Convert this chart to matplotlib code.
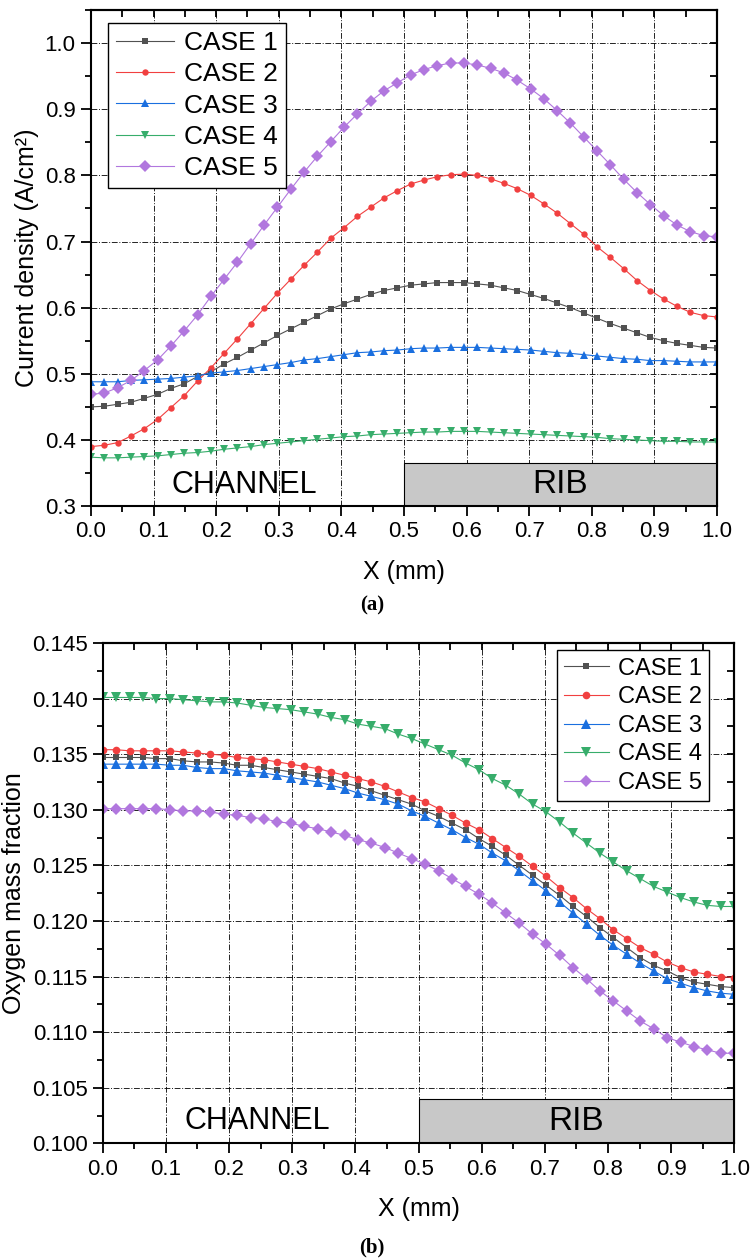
import numpy as np
import matplotlib.pyplot as plt
from matplotlib.patches import Rectangle
from matplotlib.ticker import MultipleLocator

plt.rcParams['font.family'] = ['Liberation Sans', 'DejaVu Sans']

# 48 sample points across the half cell (0 = channel centre, 1 = rib centre)
x = np.linspace(0, 1, 48)

labels = ['CASE 1', 'CASE 2', 'CASE 3', 'CASE 4', 'CASE 5']
colors = ['#515151', '#F14040', '#1A6FDF', '#37AD6B', '#B177DE']
markers = ['s', 'o', '^', 'v', 'D']

# current density, A/cm^2
cd_case1 = [0.450, 0.451, 0.454, 0.457, 0.463, 0.469, 0.478, 0.485, 0.496, 0.503,
            0.515, 0.525, 0.536, 0.547, 0.558, 0.568, 0.578, 0.588, 0.598, 0.606,
            0.613, 0.620, 0.626, 0.630, 0.634, 0.636, 0.638, 0.638, 0.638, 0.636,
            0.634, 0.630, 0.626, 0.620, 0.614, 0.607, 0.600, 0.592, 0.584, 0.576,
            0.569, 0.562, 0.555, 0.550, 0.546, 0.543, 0.540, 0.539]
cd_case2 = [0.390, 0.392, 0.396, 0.406, 0.417, 0.431, 0.449, 0.467, 0.489, 0.509,
            0.531, 0.553, 0.576, 0.599, 0.622, 0.643, 0.664, 0.684, 0.705, 0.721,
            0.738, 0.752, 0.766, 0.777, 0.787, 0.793, 0.798, 0.801, 0.802, 0.800,
            0.795, 0.788, 0.780, 0.770, 0.757, 0.743, 0.727, 0.711, 0.692, 0.676,
            0.659, 0.641, 0.626, 0.613, 0.602, 0.593, 0.588, 0.586]
cd_case3 = [0.488, 0.488, 0.488, 0.490, 0.491, 0.492, 0.493, 0.495, 0.497, 0.501,
            0.503, 0.505, 0.508, 0.511, 0.514, 0.517, 0.521, 0.523, 0.526, 0.529,
            0.532, 0.533, 0.535, 0.536, 0.538, 0.539, 0.539, 0.540, 0.540, 0.540,
            0.539, 0.538, 0.537, 0.536, 0.534, 0.532, 0.531, 0.529, 0.527, 0.525,
            0.523, 0.522, 0.520, 0.520, 0.519, 0.518, 0.518, 0.518]
cd_case4 = [0.374, 0.373, 0.373, 0.374, 0.375, 0.376, 0.378, 0.380, 0.381, 0.383,
            0.386, 0.388, 0.390, 0.393, 0.395, 0.397, 0.399, 0.401, 0.403, 0.405,
            0.406, 0.408, 0.409, 0.410, 0.411, 0.412, 0.412, 0.413, 0.413, 0.413,
            0.412, 0.411, 0.410, 0.409, 0.408, 0.407, 0.406, 0.405, 0.404, 0.402,
            0.401, 0.400, 0.399, 0.398, 0.398, 0.397, 0.397, 0.397]
cd_case5 = [0.469, 0.471, 0.479, 0.490, 0.505, 0.521, 0.542, 0.565, 0.589, 0.617,
            0.643, 0.669, 0.697, 0.725, 0.752, 0.779, 0.805, 0.829, 0.851, 0.873,
            0.893, 0.912, 0.928, 0.940, 0.952, 0.960, 0.966, 0.970, 0.970, 0.967,
            0.962, 0.955, 0.944, 0.931, 0.916, 0.898, 0.879, 0.858, 0.837, 0.816,
            0.794, 0.774, 0.756, 0.739, 0.725, 0.715, 0.709, 0.707]

# oxygen mass fraction
o2_case1 = [0.1347, 0.1347, 0.1347, 0.1347, 0.1346, 0.1346, 0.1344, 0.1343, 0.1343, 0.1342,
            0.1340, 0.1340, 0.1338, 0.1336, 0.1334, 0.1332, 0.1330, 0.1328, 0.1324, 0.1321,
            0.1317, 0.1313, 0.1309, 0.1305, 0.1299, 0.1294, 0.1288, 0.1282, 0.1274, 0.1267,
            0.1259, 0.1250, 0.1241, 0.1232, 0.1223, 0.1213, 0.1204, 0.1194, 0.1185, 0.1176,
            0.1167, 0.1160, 0.1155, 0.1149, 0.1145, 0.1143, 0.1141, 0.1140]
o2_case2 = [0.1354, 0.1354, 0.1353, 0.1353, 0.1353, 0.1353, 0.1352, 0.1351, 0.1350, 0.1349,
            0.1347, 0.1346, 0.1345, 0.1343, 0.1341, 0.1339, 0.1337, 0.1334, 0.1331, 0.1328,
            0.1325, 0.1321, 0.1316, 0.1311, 0.1307, 0.1301, 0.1295, 0.1288, 0.1282, 0.1274,
            0.1266, 0.1258, 0.1249, 0.1240, 0.1230, 0.1221, 0.1211, 0.1202, 0.1192, 0.1184,
            0.1176, 0.1170, 0.1163, 0.1158, 0.1154, 0.1152, 0.1150, 0.1149]
o2_case3 = [0.1341, 0.1341, 0.1341, 0.1341, 0.1341, 0.1340, 0.1340, 0.1338, 0.1337, 0.1337,
            0.1335, 0.1334, 0.1333, 0.1331, 0.1329, 0.1327, 0.1325, 0.1322, 0.1319, 0.1315,
            0.1312, 0.1309, 0.1305, 0.1299, 0.1294, 0.1288, 0.1282, 0.1275, 0.1269, 0.1261,
            0.1254, 0.1245, 0.1236, 0.1227, 0.1217, 0.1207, 0.1197, 0.1187, 0.1178, 0.1170,
            0.1162, 0.1155, 0.1148, 0.1144, 0.1140, 0.1137, 0.1135, 0.1134]
o2_case4 = [0.1401, 0.1401, 0.1401, 0.1401, 0.1400, 0.1400, 0.1399, 0.1398, 0.1397, 0.1397,
            0.1396, 0.1394, 0.1392, 0.1391, 0.1390, 0.1388, 0.1386, 0.1383, 0.1381, 0.1377,
            0.1375, 0.1373, 0.1368, 0.1364, 0.1359, 0.1354, 0.1349, 0.1342, 0.1336, 0.1328,
            0.1322, 0.1314, 0.1305, 0.1298, 0.1289, 0.1279, 0.1270, 0.1261, 0.1253, 0.1245,
            0.1238, 0.1231, 0.1226, 0.1221, 0.1217, 0.1214, 0.1213, 0.1213]
o2_case5 = [0.1301, 0.1301, 0.1301, 0.1301, 0.1301, 0.1300, 0.1299, 0.1299, 0.1298, 0.1296,
            0.1295, 0.1293, 0.1292, 0.1289, 0.1288, 0.1285, 0.1283, 0.1280, 0.1277, 0.1273,
            0.1270, 0.1266, 0.1261, 0.1256, 0.1251, 0.1245, 0.1238, 0.1231, 0.1224, 0.1216,
            0.1207, 0.1198, 0.1188, 0.1179, 0.1169, 0.1158, 0.1148, 0.1137, 0.1128, 0.1119,
            0.1110, 0.1103, 0.1095, 0.1091, 0.1087, 0.1084, 0.1081, 0.1081]

cd_all = [cd_case1, cd_case2, cd_case3, cd_case4, cd_case5]
o2_all = [o2_case1, o2_case2, o2_case3, o2_case4, o2_case5]

grid_dash = (0, (7, 2, 1.2, 2))


def panel(ax, series, ylim, ystep, yminor, msizes, rib_top, ylabel, yfmt):
    for y, lab, c, m, ms in zip(series, labels, colors, markers, msizes):
        ax.plot(x, y, color=c, lw=0.8, marker=m, ms=ms, mec=c, mew=0, label=lab)

    ax.set_xlim(0, 1)
    ax.set_ylim(*ylim)
    ax.xaxis.set_major_locator(MultipleLocator(0.1))
    ax.xaxis.set_minor_locator(MultipleLocator(0.05))
    ax.yaxis.set_major_locator(MultipleLocator(ystep))
    ax.yaxis.set_minor_locator(MultipleLocator(yminor))
    ax.yaxis.set_major_formatter(yfmt)
    ax.grid(True, which='major', color='black', lw=0.6, linestyle=grid_dash)

    ax.tick_params(which='both', direction='out', top=False, right=False,
                   labelsize=16, width=1.3, pad=4)
    ax.tick_params(which='major', length=7)
    ax.tick_params(which='minor', length=4.5)
    for s in ax.spines.values():
        s.set_linewidth(1.5)

    # inward ticks on the top and right frame
    top = ax.secondary_xaxis('top')
    top.xaxis.set_major_locator(MultipleLocator(0.1))
    top.xaxis.set_minor_locator(MultipleLocator(0.05))
    top.tick_params(which='both', direction='in', labeltop=False, length=5, width=1.3)
    top.spines['top'].set_linewidth(1.5)
    right = ax.secondary_yaxis('right')
    right.yaxis.set_major_locator(MultipleLocator(ystep))
    right.yaxis.set_minor_locator(MultipleLocator(yminor))
    right.tick_params(which='both', direction='in', labelright=False, length=5, width=1.3)
    right.spines['right'].set_linewidth(1.5)

    # rib block
    ax.add_patch(Rectangle((0.5, ylim[0]), 0.5, rib_top - ylim[0], facecolor='#c8c8c8',
                           edgecolor='black', lw=0.8, zorder=2.5))
    mid = ylim[0] + (rib_top - ylim[0]) * 0.5
    ax.text(0.75, mid, 'RIB', fontsize=24, ha='center', va='center', zorder=3)
    ax.text(0.245, mid, 'CHANNEL', fontsize=22, ha='center', va='center', zorder=3)

    ax.set_ylabel(ylabel, fontsize=18)
    ax.set_xlabel('X (mm)', fontsize=18)


def legend(ax, loc, anchor, size, hlen):
    leg = ax.legend(loc=loc, bbox_to_anchor=anchor, borderaxespad=0,
                    fontsize=size, frameon=True, fancybox=False, edgecolor='black',
                    framealpha=1, handlelength=hlen, handletextpad=0.4,
                    labelspacing=0.28, borderpad=0.3, numpoints=1)
    leg.get_frame().set_linewidth(1.0)


fig = plt.figure(figsize=(7.53, 12.59), dpi=100)

ax1 = fig.add_axes([0.1208, 0.598, 0.8314, 0.394])
panel(ax1, cd_all, (0.3, 1.05), 0.1, 0.05, [4.5, 4.6, 6, 6, 6],
      0.365, 'Current density (A/cm²)', '{x:.1f}')
legend(ax1, 'upper left', (0.027, 0.974), 19, 2.2)
ax1.yaxis.set_label_coords(-0.083, 0.5)
ax1.xaxis.set_label_coords(0.5, -0.109)

ax2 = fig.add_axes([0.1364, 0.0919, 0.8388, 0.3974])
panel(ax2, o2_all, (0.100, 0.145), 0.005, 0.0025, [5, 5.5, 6.5, 6.5, 6],
      0.104, 'Oxygen mass fraction', '{x:.3f}')
legend(ax2, 'upper right', (0.96, 0.985), 17, 1.9)
ax2.yaxis.set_label_coords(-0.121, 0.5)
ax2.xaxis.set_label_coords(0.5, -0.107)

fig.text(372 / 753, 1 - 605 / 1259, '(a)', ha='center', va='center', fontsize=15,
         family='Liberation Serif', weight='bold')
fig.text(372 / 753, 1 - 1247 / 1259, '(b)', ha='center', va='center', fontsize=15,
         family='Liberation Serif', weight='bold')

fig.savefig('out.png', dpi=100)
